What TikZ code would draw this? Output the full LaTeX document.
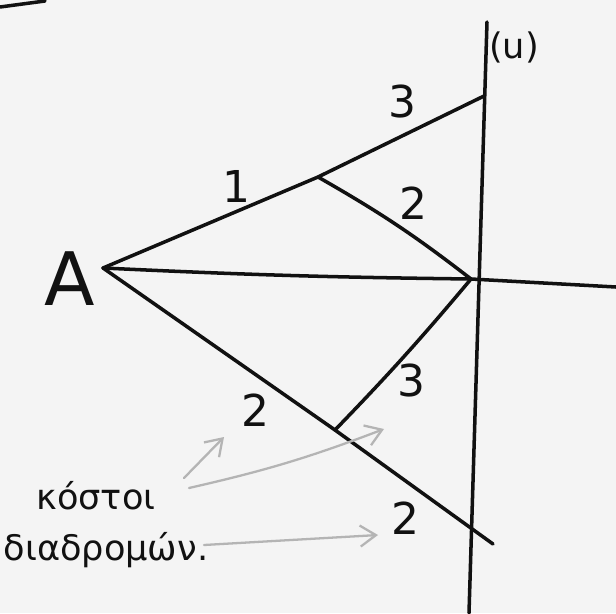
\documentclass[tikz,border=0pt]{standalone}
\usepackage{fontspec}
\setmainfont{DejaVu Sans}
\usetikzlibrary{arrows.meta}
\definecolor{Paper}{HTML}{F4F4F4}
\definecolor{Ink}{HTML}{111111}
\definecolor{Pencil}{HTML}{B4B4B4}

\begin{document}
\begin{tikzpicture}[
    x=0.02cm,y=-0.02cm,
    every node/.style={font=\fontsize{25}{28}\selectfont,text=Ink,inner sep=1pt},
    edge/.style={draw=Ink,line width=2pt,line cap=round},
    hint/.style={-{Straight Barb[length=9pt,width=12pt]},Pencil,line width=1.3pt,line cap=round},
    note/.style={font=\fontsize{20}{24}\selectfont,text=Ink}
  ]
    \fill[Paper] (0,0) rectangle (616,613);
    \useasboundingbox (0,0) rectangle (616,613);
    % points of the network
    \coordinate (A) at (103,268);
    \coordinate (top) at (484,96);
    \coordinate (mid) at (318,177);
    \coordinate (O) at (471,279);
    \coordinate (low) at (335,430);
    \coordinate (end) at (493,544);
    \coordinate (east) at (616,287);
    \coordinate (axtop) at (487,22);
    \coordinate (axbot) at (469,613);
    \coordinate (scrapA) at (0,7);
    \coordinate (scrapB) at (45,1);
    % labels
    \node (labA) at (70,279) {\fontsize{42}{46}\selectfont A};
    \node (u) at (514,47) {\fontsize{20}{24}\selectfont (u)};
    \node (c1) at (236,186) {1};
    \node (c3a) at (402,102) {3};
    \node (c2a) at (413,203) {2};
    \node (c3b) at (411,381) {3};
    \node (c2b) at (255,410) {2};
    \node (c2c) at (405,518) {2};
    \node[note] (cost) at (96,496) {κόστοι};
    \node[note] (route) at (106,550) {διαδρομών.};
    % lines
    \draw[edge] (scrapA) -- (scrapB);
    \draw[edge] (axtop) -- (axbot);
    \draw[edge] (A) to[bend right=1] (O) -- (east);
    \draw[edge] (A) -- (mid) -- (top);
    \draw[edge] (mid) to[bend left=4] (O);
    \draw[edge] (A) -- (low) -- (end);
    \draw[edge] (low) to[bend right=2] (O);
    % pencil arrows
    \coordinate (h1s) at (184,478);
    \coordinate (h1e) at (224,437);
    \coordinate (h2s) at (189,488);
    \coordinate (h2e) at (384,429);
    \coordinate (h3s) at (204,545);
    \coordinate (h3e) at (378,535);
    \draw[hint] (h1s) -- (h1e);
    \draw[hint] (h2s) to[bend right=4] (h2e);
    \draw[hint] (h3s) -- (h3e);
  \end{tikzpicture}
\end{document}
